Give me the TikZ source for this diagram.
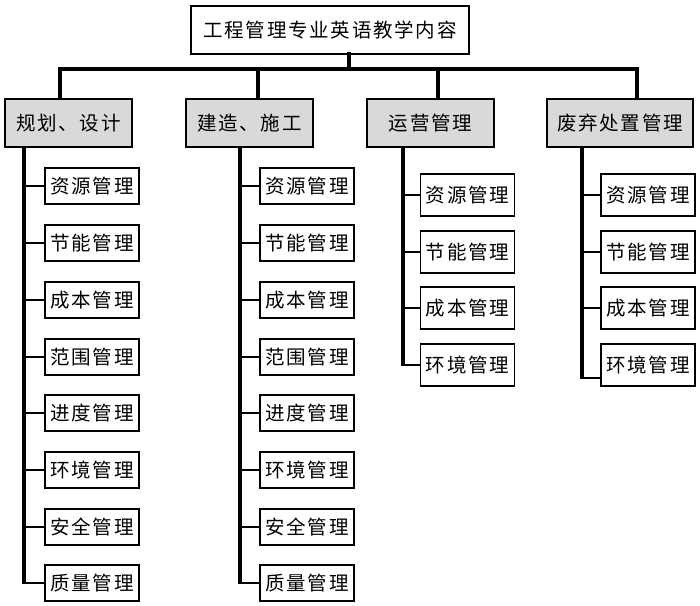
\documentclass[tikz,border=0pt]{standalone}
\usepackage{fontspec}
\newfontfamily\cjk[LetterSpace=9]{Noto Sans CJK SC}
\begin{document}
\begin{tikzpicture}[x=1pt,y=-1pt,
  box/.style={draw=black,line width=1.6pt,fill=white,inner sep=0pt,align=center,
    font=\cjk\fontsize{19.5}{22}\selectfont},
  rootbox/.style={box,minimum width=278pt,minimum height=48pt},
  catbox/.style={box,fill=black!15,minimum height=48pt},
  leafa/.style={box,minimum width=94pt,minimum height=36pt},
  leafb/.style={box,minimum width=94pt,minimum height=42pt},
  bus/.style={line width=3.2pt,line cap=rect},
  spine/.style={line width=3.2pt},
  branch/.style={line width=2pt}]
\useasboundingbox (0,0) rectangle (700,605);
% root
\node[rootbox] (root) at (330,30) {工程管理专业英语教学内容};
% categories
\node[catbox,minimum width=127pt] (c1) at (68.5,123) {规划、设计};
\node[catbox,minimum width=127pt] (c2) at (249.5,123) {建造、施工};
\node[catbox,minimum width=127pt] (c3) at (430.5,123) {运营管理};
\node[catbox,minimum width=146pt] (c4) at (620,123) {废弃处置管理};
% bus
\coordinate (rd) at (349,54);
\coordinate (b0) at (349,69);
\coordinate (b1) at (60,69);
\coordinate (b2) at (258,69);
\coordinate (b3) at (438,69);
\coordinate (b4) at (637,69);
\draw[bus] (rd) -- (b0);
\draw[bus] (b1) -- (b4);
\draw[bus] (b1) -- (b1 |- c1.north);
\draw[bus] (b2) -- (b2 |- c2.north);
\draw[bus] (b3) -- (b3 |- c3.north);
\draw[bus] (b4) -- (b4 |- c4.north);
% leaves
\foreach \t/\y/\n in {资源管理/186/a,节能管理/243/b,成本管理/300/c,范围管理/357/d,进度管理/413/e,环境管理/470/f,安全管理/527/g,质量管理/583/h}{
  \node[leafa] (l1\n) at (92,\y) {\t};
  \node[leafa] (l2\n) at (307,\y) {\t};
}
\foreach \t/\y/\n in {资源管理/195/a,节能管理/252/b,成本管理/308/c,环境管理/365/d}{
  \node[leafb] (l3\n) at (467.5,\y) {\t};
  \node[leafb] (l4\n) at (648,\y) {\t};
}
% spines
\coordinate (s1) at (24,147);
\coordinate (s2) at (240,147);
\coordinate (s3) at (403,147);
\coordinate (s4) at (582,147);
\coordinate (s4end) at (582,378);
\draw[spine] (s1) -- ([yshift=-1pt]s1 |- l1h.west);
\draw[spine] (s2) -- ([yshift=-1pt]s2 |- l2h.west);
\draw[spine] (s3) -- ([yshift=-1pt]s3 |- l3d.west);
\draw[spine] (s4) -- ([yshift=-1pt]s4end);
\draw[branch] (s4end) -- (s4end -| l4d.west);
\foreach \n in {a,b,c,d,e,f,g,h}{
  \draw[branch] (s1 |- l1\n.west) -- (l1\n.west);
  \draw[branch] (s2 |- l2\n.west) -- (l2\n.west);
}
\foreach \n in {a,b,c}{
  \draw[branch] (s3 |- l3\n.west) -- (l3\n.west);
  \draw[branch] (s4 |- l4\n.west) -- (l4\n.west);
}
\draw[branch] (s3 |- l3d.west) -- (l3d.west);
\end{tikzpicture}
\end{document}
